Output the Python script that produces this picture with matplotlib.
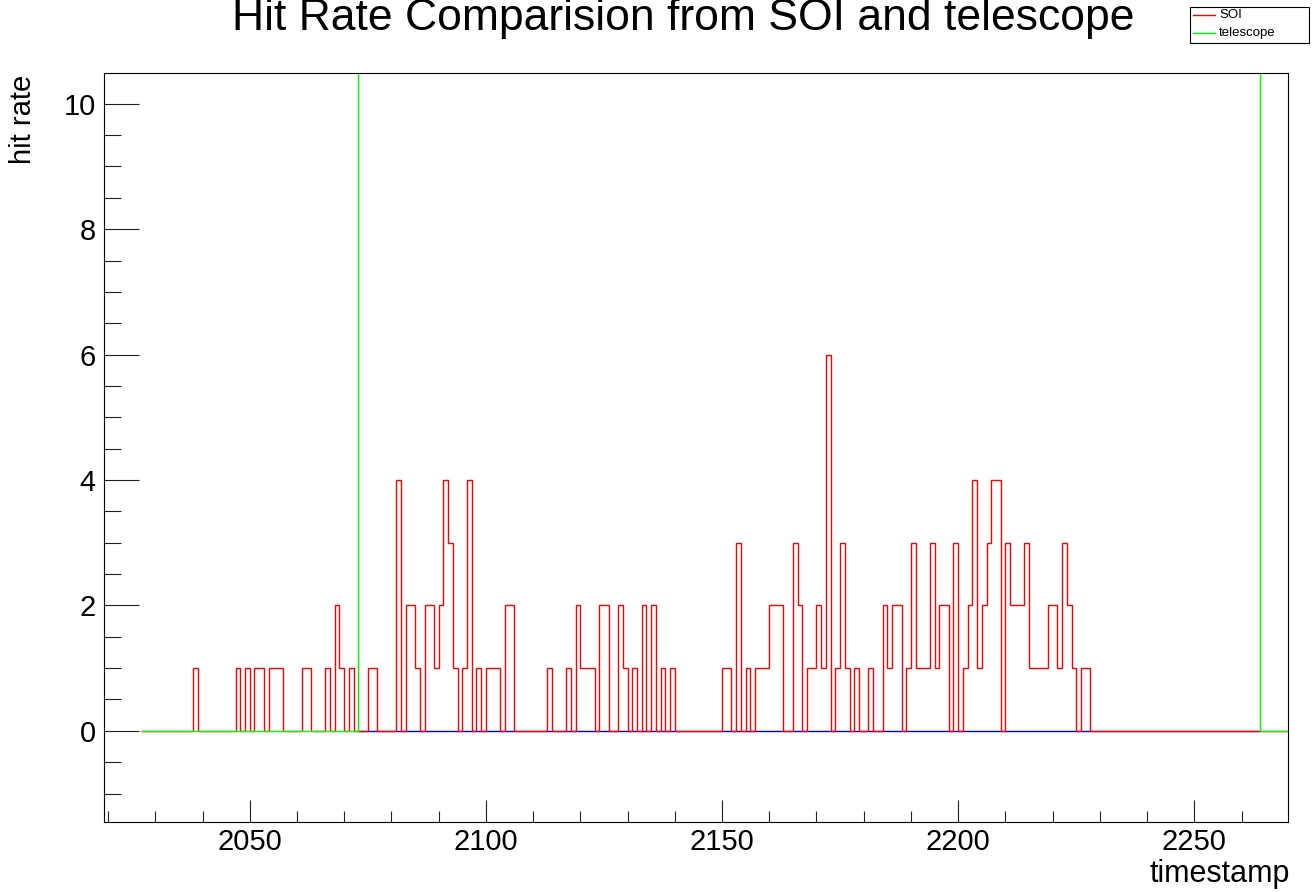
import numpy as np
import matplotlib
matplotlib.use("Agg")
import matplotlib.pyplot as plt
from matplotlib.patches import Rectangle
from matplotlib.lines import Line2D
from matplotlib.ticker import MultipleLocator

plt.rcParams['font.family'] = ['Liberation Sans', 'DejaVu Sans']

# SOI hits per timestamp bin (only non-empty bins listed, bin width 1)
soi_bins = [2038, 2047, 2049, 2051, 2052, 2054, 2055, 2056, 2061, 2062, 2066, 2068, 2069, 2071,
            2075, 2076, 2081, 2083, 2084, 2085, 2087, 2088, 2089, 2090, 2091, 2092, 2093, 2095,
            2096, 2098, 2100, 2101, 2102, 2104, 2105,
            2113, 2117, 2119, 2120, 2121, 2122, 2124, 2125, 2128, 2129, 2131, 2133, 2135, 2137, 2139,
            2150, 2151, 2153, 2155, 2157, 2158, 2159, 2160, 2161, 2162, 2165, 2166, 2168, 2169,
            2170, 2171, 2172, 2174, 2175, 2176, 2178, 2181, 2184, 2185, 2186, 2187, 2189, 2190,
            2191, 2192, 2193, 2194, 2195, 2196, 2197, 2199, 2201, 2202, 2203, 2204, 2205, 2206,
            2207, 2208, 2210, 2211, 2212, 2213, 2214, 2215, 2216, 2217, 2218, 2219, 2220, 2221,
            2222, 2223, 2224, 2226, 2227]
soi_hits = [1, 1, 1, 1, 1, 1, 1, 1, 1, 1, 1, 2, 1, 1,
            1, 1, 4, 2, 2, 1, 2, 2, 1, 2, 4, 3, 1, 1,
            4, 1, 1, 1, 1, 2, 2,
            1, 1, 2, 1, 1, 1, 2, 2, 2, 1, 1, 2, 2, 1, 1,
            1, 1, 3, 1, 1, 1, 1, 2, 2, 2, 3, 2, 1, 1,
            2, 1, 6, 1, 3, 1, 1, 1, 2, 1, 2, 2, 1, 3,
            1, 1, 1, 3, 1, 2, 2, 3, 1, 2, 4, 1, 2, 3,
            4, 4, 3, 2, 2, 2, 3, 1, 1, 1, 1, 2, 2, 1,
            3, 2, 1, 1, 1]

# telescope: zero outside the run window, far above the scale inside it
tel_edges = [2027, 2073, 2264, 2270]
tel_rate = [0, 50, 0]

# third (unlabelled) histogram, empty over the run window
blue_edges = [2073, 2264]
blue_rate = [0]

hist_lo, hist_hi = 2027, 2270
edges = np.arange(hist_lo, hist_hi + 1)
soi = np.zeros(len(edges) - 1)
for b, h in zip(soi_bins, soi_hits):
    soi[b - hist_lo] = h

fig = plt.figure(figsize=(13.12, 8.92), dpi=100)
ax = fig.add_axes([104.3 / 1312, 1 - 822 / 892, 1184 / 1312, 749 / 892])

ax.stairs(blue_rate, blue_edges, color='#0000ff', lw=1.0, snap=True)
ax.stairs(soi, edges, color='#ff0000', lw=1.0, snap=True)
ax.stairs(tel_rate, tel_edges, color='#00ff00', lw=1.0, snap=True)

ax.set_xlim(2019.2, 2269.9)
ax.set_ylim(-1.454, 10.49)

ax.xaxis.set_major_locator(MultipleLocator(50))
ax.xaxis.set_minor_locator(MultipleLocator(10))
ax.yaxis.set_major_locator(MultipleLocator(2))
ax.yaxis.set_minor_locator(MultipleLocator(0.5))
ax.tick_params(axis='both', which='both', direction='in', top=False, right=False,
               labelsize=21, width=0.8, color='#222222')
ax.tick_params(axis='y', which='major', length=25, pad=6)
ax.tick_params(axis='y', which='minor', length=12.5)
ax.tick_params(axis='x', which='major', length=16, pad=4)
ax.tick_params(axis='x', which='minor', length=8)
for s in ax.spines.values():
    s.set_linewidth(0.8)

fig.text(683.5 / 1312, 1 - 30 / 892, "Hit Rate Comparision from SOI and telescope",
         ha='center', va='baseline', fontsize=32)
fig.text(1290 / 1312, 10 / 892, "timestamp", ha='right', va='baseline', fontsize=22)
fig.text(23 / 1312, 1 - 75 / 892, "hit rate", rotation=90, ha='center', va='top', fontsize=21)

# legend box
fig.add_artist(Rectangle((1190 / 1312, 1 - 43 / 892), 119 / 1312, 36 / 892,
                         transform=fig.transFigure, fill=False, lw=0.8, ec='black'))
for yy, col, lab in [(15, '#ff0000', 'SOI'), (33, '#00ff00', 'telescope')]:
    fig.add_artist(Line2D([1193 / 1312, 1215 / 1312], [1 - yy / 892, 1 - yy / 892],
                          transform=fig.transFigure, color=col, lw=1.0))
    fig.text(1219 / 1312, 1 - yy / 892, lab, ha='left', va='center', fontsize=9.5)

fig.savefig("out.png", dpi=100)
